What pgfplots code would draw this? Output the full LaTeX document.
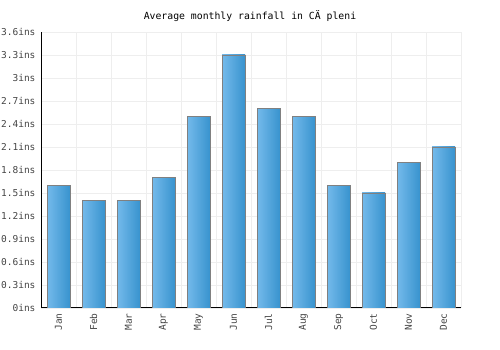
\documentclass[border=0pt]{standalone}
\usepackage{fontspec}
\setmonofont{DejaVu Sans Mono}
\usepackage{pgfplots}
\pgfplotsset{compat=1.18}
\definecolor{barL}{HTML}{74BAEB}
\definecolor{barR}{HTML}{3893CE}
\definecolor{gridc}{HTML}{EEEEEE}
\definecolor{labc}{HTML}{444444}
\tikzset{mybar/.style={ybar, bar shift=0pt, bar width=23pt, draw=gray, line width=0.8pt, left color=barL, right color=barR}}
\begin{document}
\begin{tikzpicture}[x=1pt,y=1pt]
\useasboundingbox (0,0) rectangle (500,350);
\node[font=\ttfamily\fontsize{9.8}{11}\selectfont] at (250,334) {Average monthly rainfall in CÄ pleni};
\begin{axis}[
  at={(41pt,42pt)}, anchor=south west,
  scale only axis, width=420pt, height=276pt,
  xmin=-0.5, xmax=11.5, ymin=0, ymax=3.6,
  xtick={0,...,11},
  xticklabels={Jan,Feb,Mar,Apr,May,Jun,Jul,Aug,Sep,Oct,Nov,Dec},
  x tick label style={rotate=90, anchor=east, font=\ttfamily\fontsize{9.5}{11}\selectfont, text=labc},
  ytick={0,0.3,0.6,0.9,1.2,1.5,1.8,2.1,2.4,2.7,3,3.3,3.6},
  yticklabels={0ins,0.3ins,0.6ins,0.9ins,1.2ins,1.5ins,1.8ins,2.1ins,2.4ins,2.7ins,3ins,3.3ins,3.6ins},
  y tick label style={font=\ttfamily\fontsize{9.5}{11}\selectfont, text=labc},
  minor xtick={-0.5,0.5,1.5,2.5,3.5,4.5,5.5,6.5,7.5,8.5,9.5,10.5,11.5},
  xminorgrids, ymajorgrids,
  grid style={draw=gridc, line width=0.8pt},
  minor grid style={draw=gridc, line width=0.8pt},
  major tick length=0pt, minor tick length=0pt,
  axis lines*=left,
  axis line style={black, line width=1pt},
  xticklabel shift=2pt, yticklabel shift=2pt,
]
\addplot[mybar] coordinates {(0,1.6)};
\addplot[mybar] coordinates {(1,1.4)};
\addplot[mybar] coordinates {(2,1.4)};
\addplot[mybar] coordinates {(3,1.7)};
\addplot[mybar] coordinates {(4,2.5)};
\addplot[mybar] coordinates {(5,3.3)};
\addplot[mybar] coordinates {(6,2.6)};
\addplot[mybar] coordinates {(7,2.5)};
\addplot[mybar] coordinates {(8,1.6)};
\addplot[mybar] coordinates {(9,1.5)};
\addplot[mybar] coordinates {(10,1.9)};
\addplot[mybar] coordinates {(11,2.1)};
\end{axis}
\end{tikzpicture}
\end{document}
